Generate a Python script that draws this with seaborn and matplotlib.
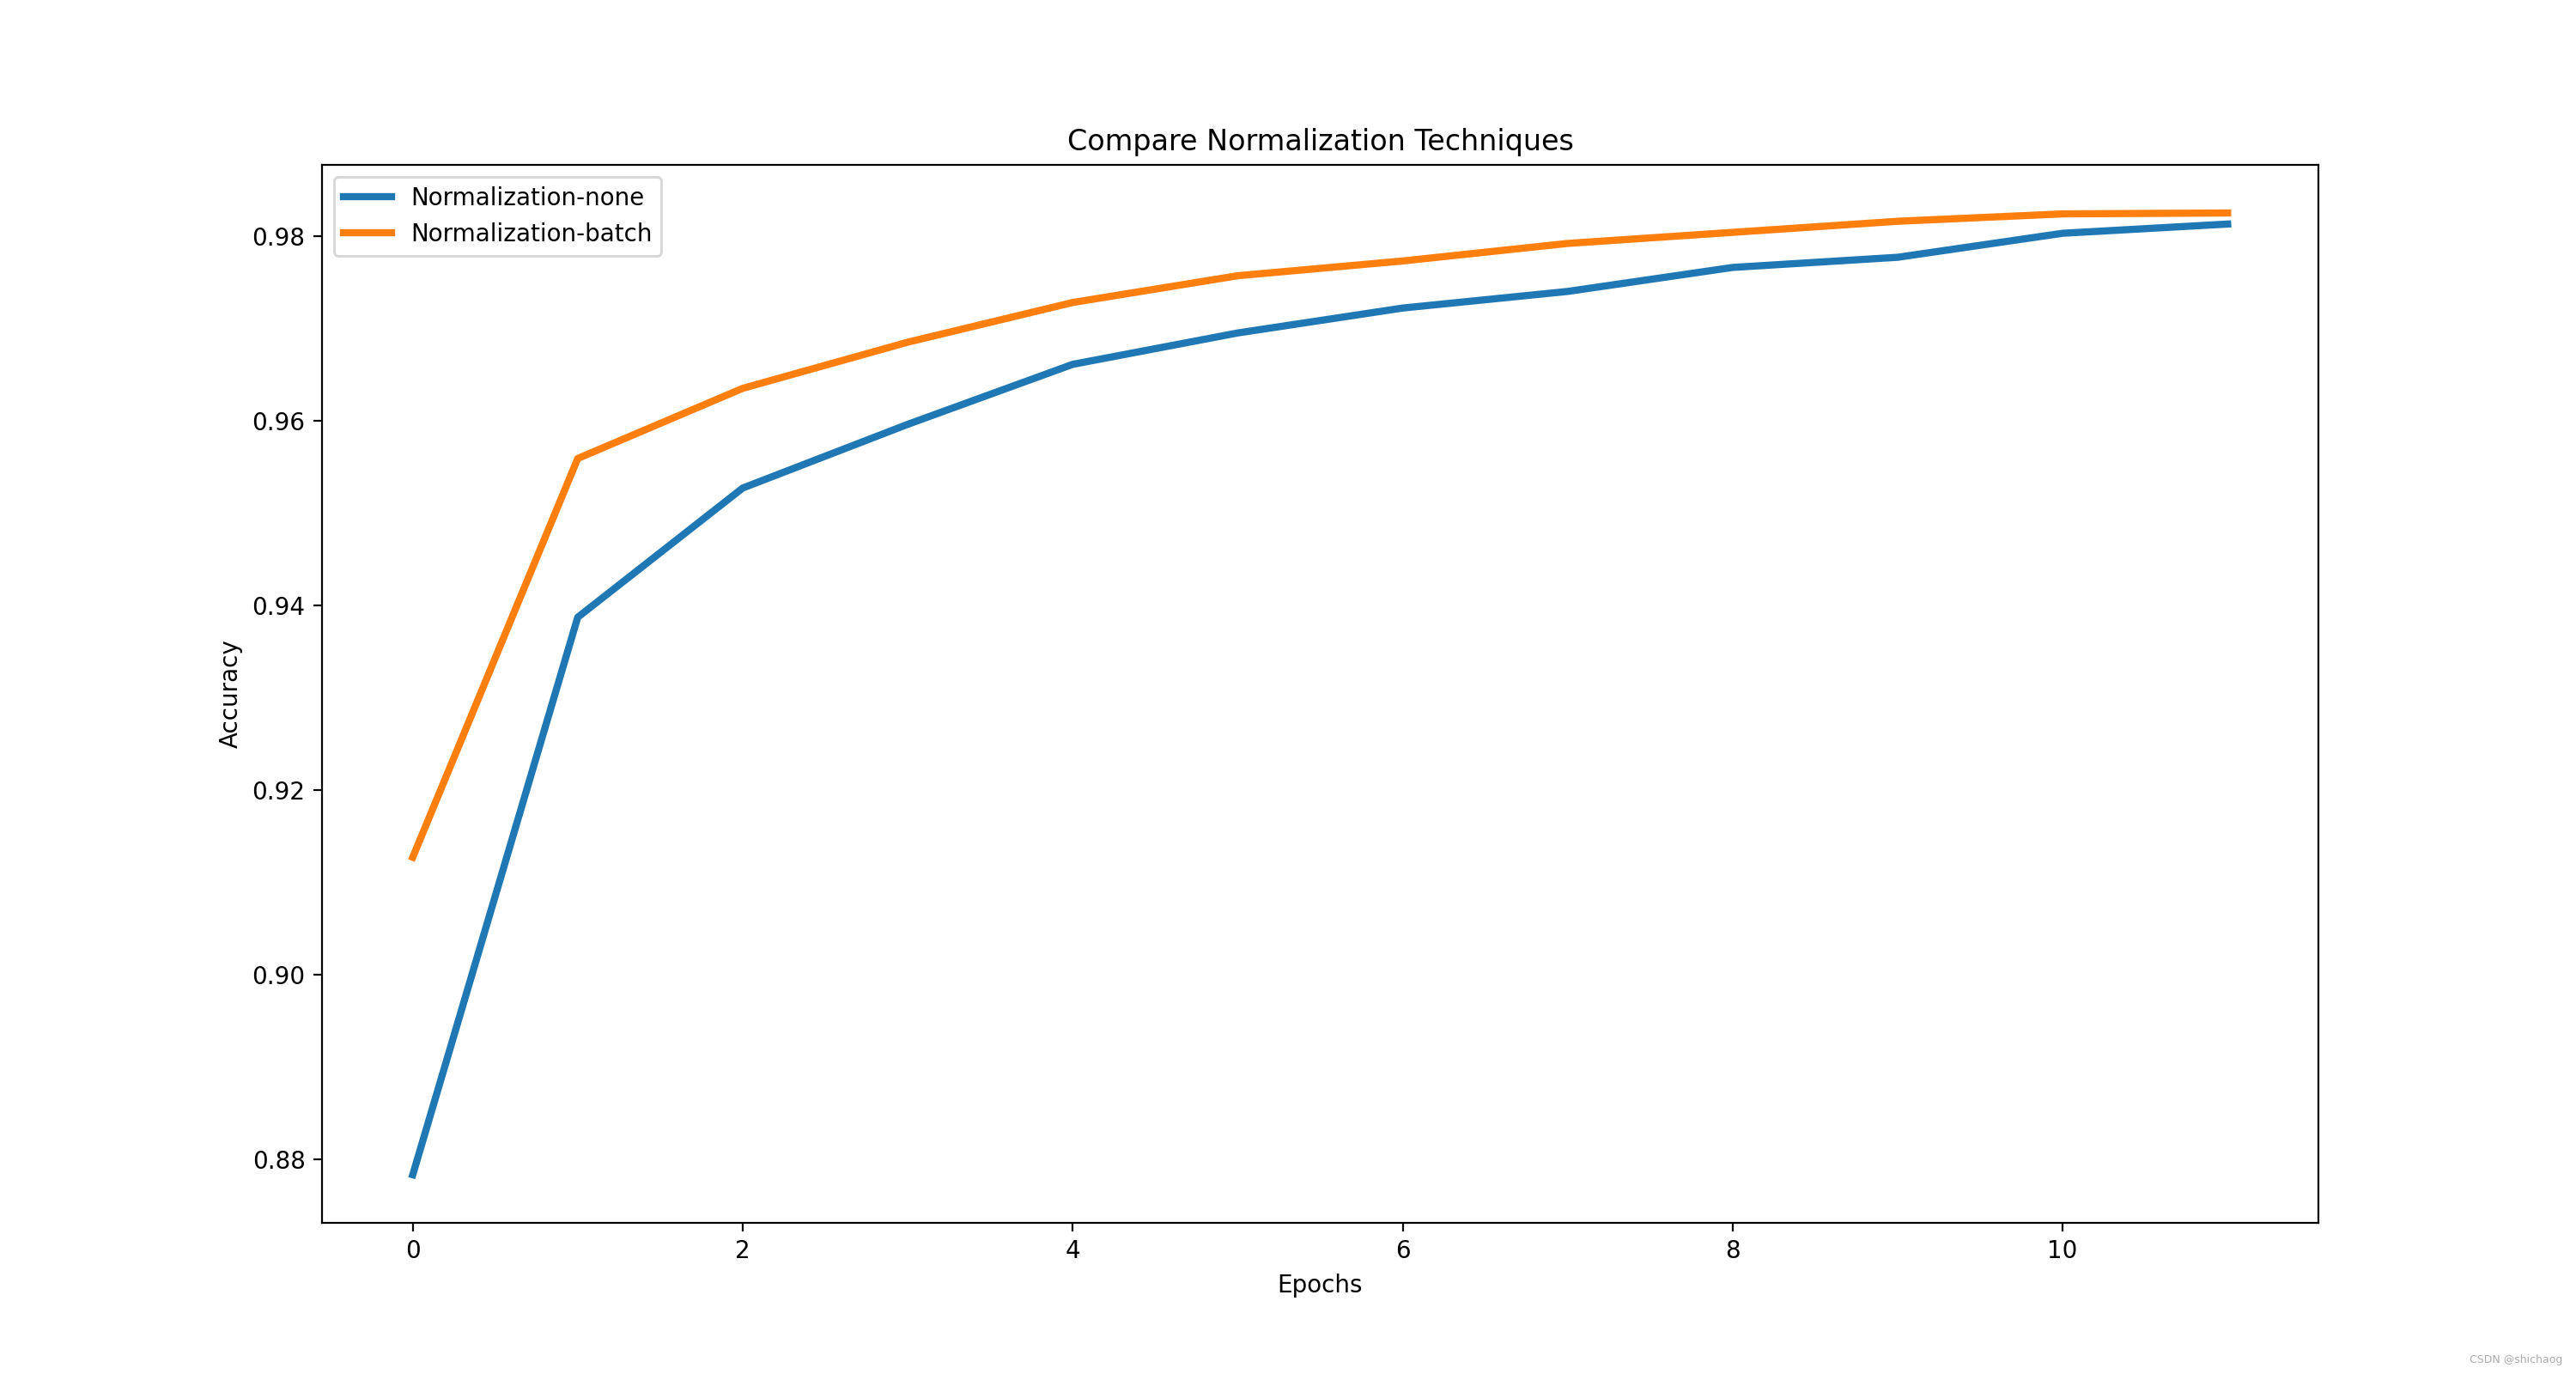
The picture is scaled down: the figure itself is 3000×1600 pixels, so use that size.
import matplotlib
matplotlib.use("Agg")
import matplotlib.pyplot as plt
import seaborn as sns
import pandas as pd

epochs = list(range(12))
acc_none = [0.8783, 0.9387, 0.9527, 0.9596, 0.9661, 0.9695, 0.9722, 0.9740, 0.9766, 0.9777, 0.9803, 0.9813]
acc_batch = [0.9127, 0.9559, 0.9635, 0.9685, 0.9728, 0.9757, 0.9773, 0.9792, 0.9804, 0.9816, 0.9824, 0.9825]
labels = ["Normalization-none", "Normalization-batch"]

df = pd.DataFrame({
    "Epochs": epochs * 2,
    "Accuracy": acc_none + acc_batch,
    "series": [labels[0]] * len(epochs) + [labels[1]] * len(epochs),
})

fig, ax = plt.subplots(figsize=(15, 8), dpi=200)
sns.lineplot(data=df, x="Epochs", y="Accuracy", hue="series",
             palette=["#1f77b4", "#ff7f0e"], linewidth=3, ax=ax)
ax.legend(title=None, loc="upper left")
ax.set_title("Compare Normalization Techniques")
ax.set_xlabel("Epochs")
ax.set_ylabel("Accuracy")
fig.text(0.9947, 0.0106, "CSDN @shichaog", ha="right", va="center",
         fontsize=4.5, color="#aaaaaa")
fig.savefig("out.png", dpi=200)
